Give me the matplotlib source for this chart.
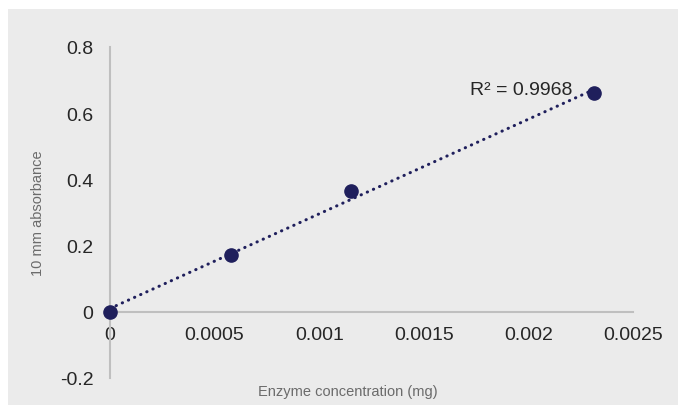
import matplotlib.pyplot as plt
import numpy as np
from matplotlib.patches import Rectangle
from matplotlib import font_manager

# enzyme concentration (mg) vs 10 mm absorbance
conc = np.array([0.0, 0.000578, 0.00115, 0.002314])
absorb = np.array([0.0, 0.172, 0.364, 0.660])
r2_label = 'R² = 0.9968'

x_ticks = [0, 0.0005, 0.001, 0.0015, 0.002, 0.0025]
x_ticklabels = ['0', '0.0005', '0.001', '0.0015', '0.002', '0.0025']
y_ticks = [-0.2, 0, 0.2, 0.4, 0.6, 0.8]
y_ticklabels = ['-0.2', '0', '0.2', '0.4', '0.6', '0.8']

plt.rcParams['font.family'] = ['Liberation Sans', 'DejaVu Sans']

# axis titles in the reference use a narrow face
names = {f.name for f in font_manager.fontManager.ttflist}
narrow = 'Liberation Sans Narrow' if 'Liberation Sans Narrow' in names else 'Liberation Sans'
title_size = 12 if narrow == 'Liberation Sans Narrow' else 10.5

navy = '#1f1f5c'
axis_grey = '#bfbfbf'

fig = plt.figure(figsize=(6.78, 4.06), dpi=100, facecolor='white')
# grey panel behind the chart, small white margin top/left
fig.patches.append(Rectangle((8 / 678, 0), 1, 1 - 10 / 406, transform=fig.transFigure,
                             facecolor='#ebebeb', edgecolor='none', zorder=-10))

ax = fig.add_axes([110 / 678, 1 - 379 / 406, 523 / 678, 331 / 406])
ax.set_facecolor('none')

# trendline (linear fit)
slope, icpt = np.polyfit(conc, absorb, 1)
xx = np.array([0, conc.max()])
ax.plot(xx, slope * xx + icpt, color=navy, lw=2.2, linestyle=(0, (0.1, 2.1)),
        dash_capstyle='round', zorder=2)
ax.plot(conc, absorb, 'o', color=navy, ms=9.5, zorder=3, clip_on=False)

ax.set_xlim(0, 0.0025)
ax.set_ylim(-0.2, 0.8)
ax.set_xticks(x_ticks)
ax.set_xticklabels(x_ticklabels)
ax.set_yticks(y_ticks)
ax.set_yticklabels(y_ticklabels)

for s in ['top', 'right']:
    ax.spines[s].set_visible(False)
ax.spines['bottom'].set_position(('data', 0))
ax.spines['bottom'].set_color(axis_grey)
ax.spines['bottom'].set_linewidth(1.5)
ax.spines['left'].set_color(axis_grey)
ax.spines['left'].set_linewidth(1.5)

ax.tick_params(axis='both', length=0, labelsize=14, labelcolor='#262626')
ax.tick_params(axis='x', pad=10)
ax.tick_params(axis='y', pad=12)

ax.set_ylabel('10 mm absorbance', fontsize=title_size, color='#6b6b6b', family=narrow)
ax.yaxis.set_label_coords(-0.124, 0.5)
ax.set_xlabel('Enzyme concentration (mg)', fontsize=title_size, color='#6b6b6b', family=narrow)
ax.xaxis.set_label_coords(0.455, -0.018)

ax.text(0.00221, 0.672, r2_label, fontsize=14, color='#262626', ha='right', va='center')

plt.savefig('out.png', dpi=100)
